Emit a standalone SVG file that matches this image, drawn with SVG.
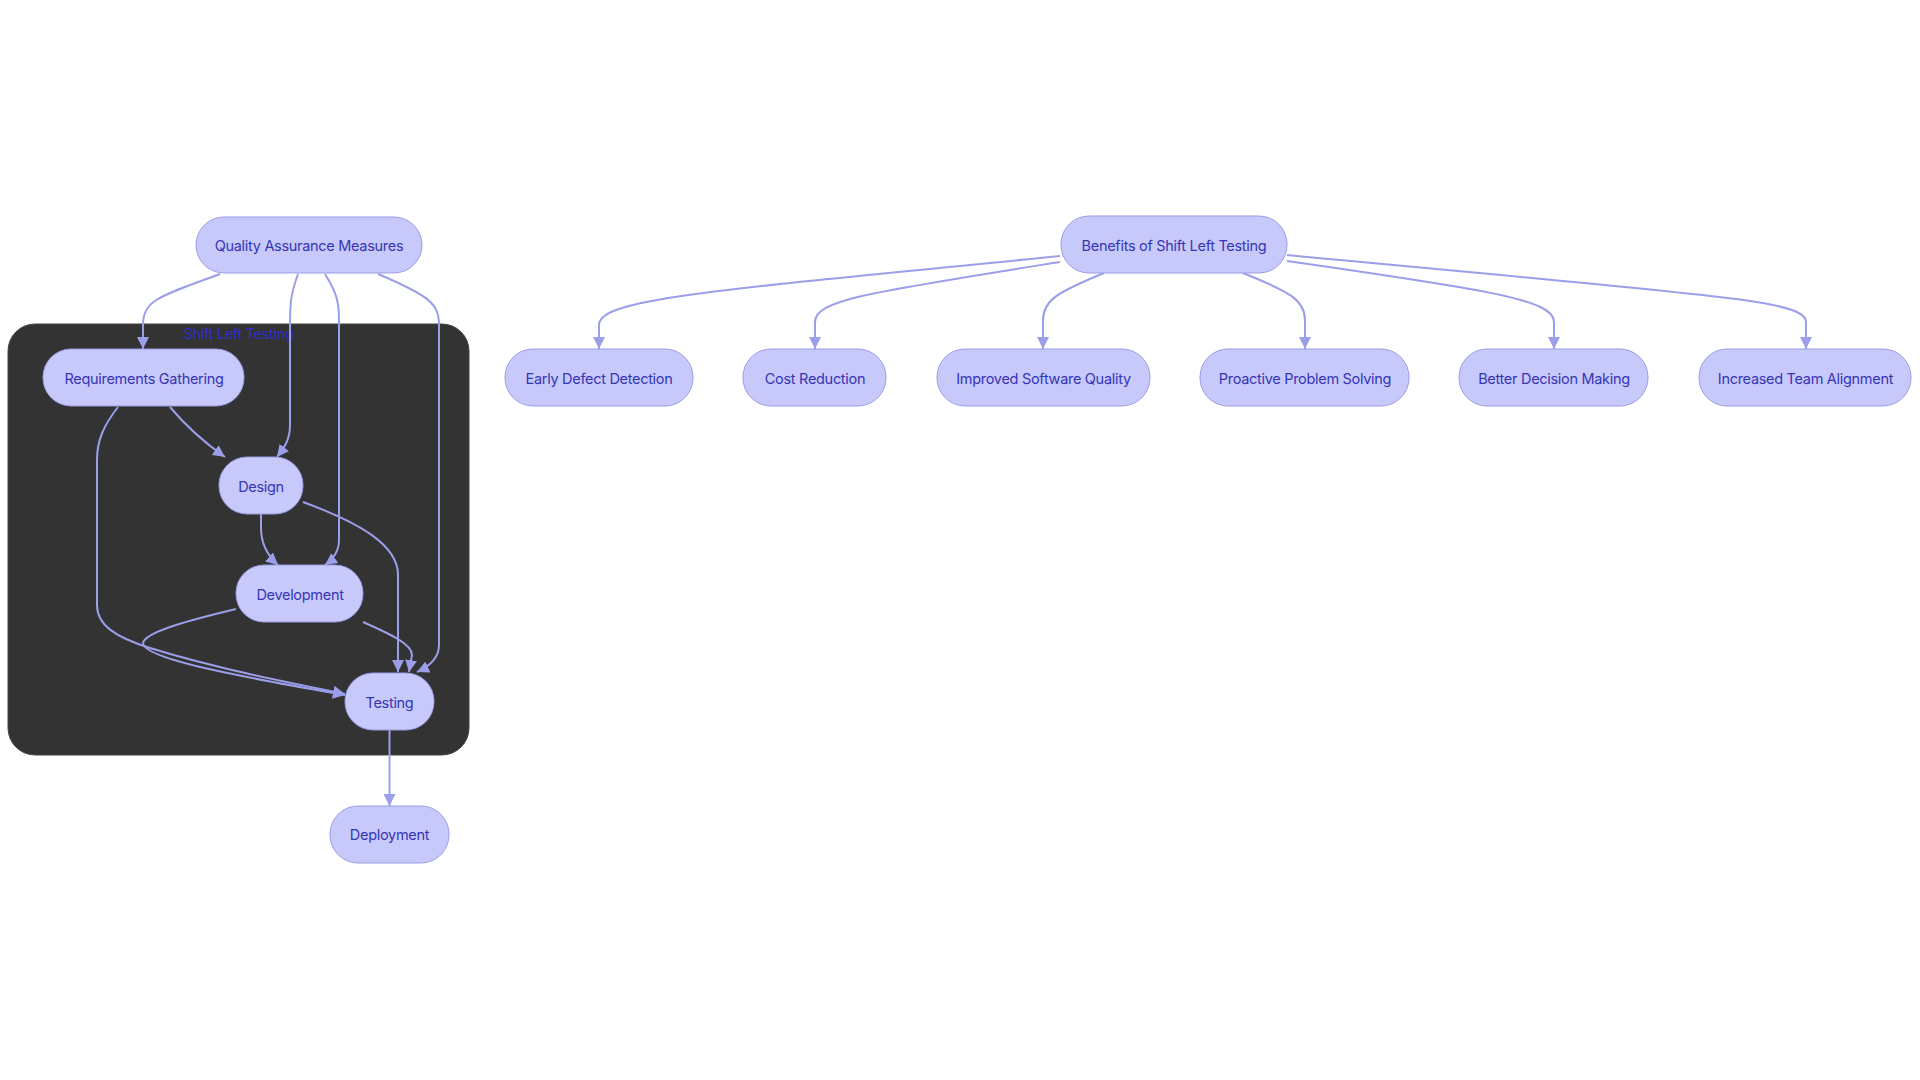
<svg xmlns="http://www.w3.org/2000/svg" width="1920" height="1080" viewBox="0 0 1920 1080">
<style>
.node rect{fill:#c8c9fb;stroke:#9a9de6;stroke-width:1}
.node text{font-family:Inter,"Noto Sans",sans-serif;font-size:14.5px;letter-spacing:-0.3px;fill:#3535b5;text-anchor:middle;dominant-baseline:central}
.edge{fill:none;stroke:#9b9ee8;stroke-width:2;marker-end:url(#arr)}
.clabel{font-family:Inter,"Noto Sans",sans-serif;font-size:14.5px;letter-spacing:-0.3px;fill:#2f2fc8;text-anchor:middle;dominant-baseline:central}
</style>
<defs>
<marker id="arr" viewBox="0 0 12 12" refX="12" refY="6" markerWidth="12" markerHeight="12" markerUnits="userSpaceOnUse" orient="auto">
<path d="M0,0 L12,6 L0,12 z" fill="#9b9ee8"/>
</marker>
</defs>
<rect width="1920" height="1080" fill="#ffffff"/>
<g id="cluster-shift-left">
<rect x="8" y="324" width="461" height="431" rx="27" ry="27" fill="#333333" stroke="#444444" stroke-width="1"/>
<text class="clabel" x="238.5" y="333">Shift Left Testing</text>
</g>
<g id="connectors">
<path class="edge" d="M220,274 C160,296 143,300 143,325 L143,349"/>
<path class="edge" d="M298,274 C290,296 290,305 290,330 L290,425 C290,440 284,448 277,457"/>
<path class="edge" d="M325,274 C336,292 339,300 339,320 L339,540 C339,552 332,560 325,565"/>
<path class="edge" d="M378,274 C430,296 439,304 439,325 L439,645 C439,657 430,666 417,672"/>
<path class="edge" d="M170,407 C185,425 205,443 225,457"/>
<path class="edge" d="M118,407 C104,425 97,440 97,460 L97,605 C97,625 115,637 150,648 C215,668 285,682 345,694"/>
<path class="edge" d="M236,609 C190,620 145,632 143,643 C143,660 260,680 345,695"/>
<path class="edge" d="M261,514 L261,528 C261,545 268,556 278,565"/>
<path class="edge" d="M303,502 C360,523 398,545 398,575 L398,672"/>
<path class="edge" d="M363,622 C390,634 412,644 412,655 L409,672"/>
<path class="edge" d="M389.5,730 L389.5,806"/>
<path class="edge" d="M1060,256 C720,290 599,298 599,325 L599,349"/>
<path class="edge" d="M1060,262 C870,292 815,300 815,322 L815,349"/>
<path class="edge" d="M1104,273 C1058,292 1043,300 1043,320 L1043,349"/>
<path class="edge" d="M1243,273 C1290,292 1305,300 1305,320 L1305,349"/>
<path class="edge" d="M1287,261 C1490,290 1554,300 1554,322 L1554,349"/>
<path class="edge" d="M1287,255 C1720,296 1806,300 1806,322 L1806,349"/>
</g>
<g id="node-qa" class="node"><rect x="196" y="217" width="226" height="56" rx="28"/><text x="309" y="245">Quality Assurance Measures</text></g>
<g id="node-benefits" class="node"><rect x="1061" y="216" width="226" height="57" rx="28"/><text x="1174" y="245">Benefits of Shift Left Testing</text></g>
<g id="node-req" class="node"><rect x="43" y="349" width="201" height="57" rx="28"/><text x="144" y="378">Requirements Gathering</text></g>
<g id="node-design" class="node"><rect x="219" y="457" width="84" height="57" rx="28"/><text x="261" y="486">Design</text></g>
<g id="node-dev" class="node"><rect x="236" y="565" width="127" height="57" rx="28"/><text x="300" y="594">Development</text></g>
<g id="node-testing" class="node"><rect x="345" y="673" width="89" height="57" rx="28"/><text x="389.5" y="702">Testing</text></g>
<g id="node-deploy" class="node"><rect x="330" y="806" width="119" height="57" rx="28"/><text x="389.5" y="834">Deployment</text></g>
<g id="node-early" class="node"><rect x="505" y="349" width="188" height="57" rx="28"/><text x="599" y="378">Early Defect Detection</text></g>
<g id="node-cost" class="node"><rect x="743" y="349" width="143" height="57" rx="28"/><text x="815" y="378">Cost Reduction</text></g>
<g id="node-quality" class="node"><rect x="937" y="349" width="213" height="57" rx="28"/><text x="1043.5" y="378">Improved Software Quality</text></g>
<g id="node-proactive" class="node"><rect x="1200" y="349" width="209" height="57" rx="28"/><text x="1305" y="378">Proactive Problem Solving</text></g>
<g id="node-better" class="node"><rect x="1459" y="349" width="189" height="57" rx="28"/><text x="1554" y="378">Better Decision Making</text></g>
<g id="node-team" class="node"><rect x="1699" y="349" width="212" height="57" rx="28"/><text x="1805.5" y="378">Increased Team Alignment</text></g>
</svg>
